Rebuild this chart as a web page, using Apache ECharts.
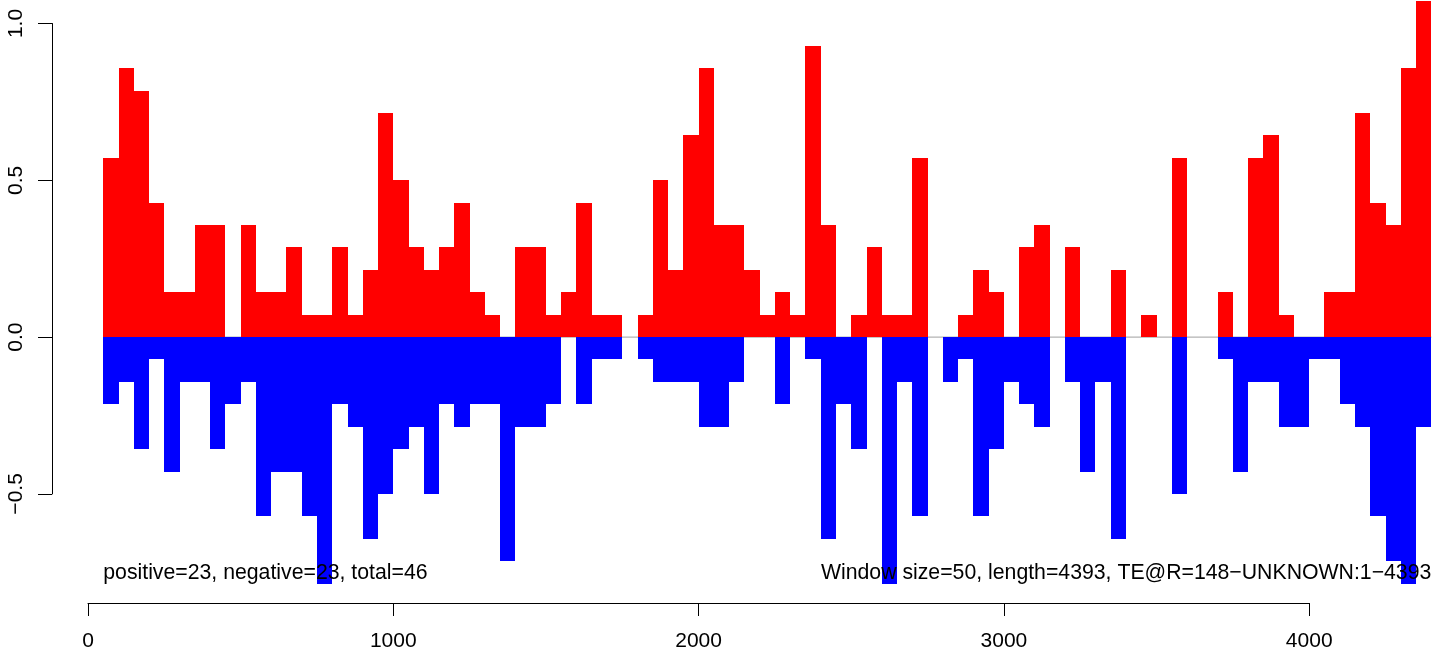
<!DOCTYPE html>
<html>
<head>
<meta charset="utf-8">
<script src="https://cdn.jsdelivr.net/npm/echarts@6/dist/echarts.min.js"></script>
<style>
html,body{margin:0;padding:0;background:#fff;}
#chart{width:1447px;height:652px;}
</style>
</head>
<body>
<div id="chart"></div>
<script>
// ---- data ----
const windowSize = 50;
const firstWindowStart = 50;
const positiveValues = [
  0.571,0.857,0.786,0.429,0.143,0.143,0.357,0.357,0,0.357,
  0.143,0.143,0.286,0.071,0.071,0.286,0.071,0.214,0.714,0.5,
  0.286,0.214,0.286,0.429,0.143,0.071,0,0.286,0.286,0.071,
  0.143,0.429,0.071,0.071,0,0.071,0.5,0.214,0.643,0.857,
  0.357,0.357,0.214,0.071,0.143,0.071,0.929,0.357,0,0.071,
  0.286,0.071,0.071,0.571,0,0,0.071,0.214,0.143,0,
  0.286,0.357,0,0.286,0,0,0.214,0,0.071,0,
  0.571,0,0,0.143,0,0.571,0.643,0.071,0,0,
  0.143,0.143,0.714,0.429,0.357,0.857,1.071
];
const negativeValues = [
  -0.214,-0.143,-0.357,-0.071,-0.429,-0.143,-0.143,-0.357,-0.214,-0.143,
  -0.571,-0.429,-0.429,-0.571,-0.786,-0.214,-0.286,-0.643,-0.5,-0.357,
  -0.286,-0.5,-0.214,-0.286,-0.214,-0.214,-0.714,-0.286,-0.286,-0.214,
  0,-0.214,-0.071,-0.071,0,-0.071,-0.143,-0.143,-0.143,-0.286,
  -0.286,-0.143,0,0,-0.214,0,-0.071,-0.643,-0.214,-0.357,
  0,-0.786,-0.143,-0.571,0,-0.143,-0.071,-0.571,-0.357,-0.143,
  -0.214,-0.286,0,-0.143,-0.429,-0.143,-0.643,0,0,0,
  -0.5,0,0,-0.071,-0.429,-0.143,-0.143,-0.286,-0.286,-0.071,
  -0.071,-0.214,-0.286,-0.571,-0.714,-0.786,-0.286
];
const xTicks = [0, 1000, 2000, 3000, 4000];
const yTicks = [-0.5, 0.0, 0.5, 1.0];
const leftNote = 'positive=23, negative=23, total=46';
const rightNote = 'Window size=50, length=4393, TE@R=148\u2212UNKNOWN:1\u22124393';

// ---- build ----
const starts = positiveValues.map((_, i) => firstWindowStart + i * windowSize);
const posData = positiveValues.map((v, i) => [starts[i], starts[i] + windowSize, v]);
const negData = negativeValues.map((v, i) => [starts[i], starts[i] + windowSize, v]);
const xEnd = starts[starts.length - 1] + windowSize;

const pxPerUnitX = 0.3053;
const pxPerUnitY = 313.6;
const plotLeft = 88;
const zeroY = 337.1;
const FONT = '"Liberation Sans", Arial, Helvetica, sans-serif';

function rectItem(color) {
  return function (params, api) {
    const v = api.value(2);
    if (!v) return null;
    const p0 = api.coord([api.value(0), 0]);
    const p1 = api.coord([api.value(1), v]);
    const x0 = Math.round(p0[0]), x1 = Math.round(p1[0]);
    const y0 = Math.round(p0[1]), y1 = Math.round(p1[1]);
    return {
      type: 'rect',
      shape: { x: x0, y: Math.min(y0, y1), width: x1 - x0, height: Math.abs(y1 - y0) },
      style: { fill: color }
    };
  };
}

const chart = echarts.init(document.getElementById('chart'), null, { renderer: 'canvas' });
const yMax = 1.075, yMin = -1.0;
const option = {
  animation: false,
  backgroundColor: '#ffffff',
  grid: [
    { left: plotLeft, top: zeroY - yMax * pxPerUnitY, width: xEnd * pxPerUnitX, height: (yMax - yMin) * pxPerUnitY },
    { left: plotLeft, width: xTicks[xTicks.length - 1] * pxPerUnitX, top: 500, bottom: 48 },
    { left: 52, width: 100, top: zeroY - 1.0 * pxPerUnitY, height: 1.5 * pxPerUnitY }
  ],
  xAxis: [
    { gridIndex: 0, type: 'value', min: 0, max: xEnd, show: false },
    { gridIndex: 1, type: 'value', min: xTicks[0], max: xTicks[xTicks.length - 1], interval: 1000,
      axisLine: { show: true, lineStyle: { color: '#000', width: 1 } },
      axisTick: { show: true, length: 13, lineStyle: { color: '#000', width: 1 } },
      axisLabel: { show: true, margin: 28, color: '#000', fontSize: 21, fontFamily: FONT,
        formatter: v => String(v) },
      splitLine: { show: false } },
    { gridIndex: 2, type: 'value', show: false }
  ],
  yAxis: [
    { gridIndex: 0, type: 'value', min: yMin, max: yMax, show: false },
    { gridIndex: 1, type: 'value', show: false },
    { gridIndex: 2, type: 'value', min: yTicks[0], max: yTicks[yTicks.length - 1], interval: 0.5,
      axisLine: { show: true, lineStyle: { color: '#000', width: 1 } },
      axisTick: { show: true, length: 14, lineStyle: { color: '#000', width: 1 } },
      axisLabel: { show: true, rotate: 90, margin: 25, color: '#000', fontSize: 21, fontFamily: FONT,
        formatter: v => v.toFixed(1).replace('-', '\u2212') },
      splitLine: { show: false } }
  ],
  series: [
    { type: 'line', xAxisIndex: 0, yAxisIndex: 0, data: [[firstWindowStart, 0], [xEnd, 0]],
      symbol: 'none', lineStyle: { color: '#a0a0a0', width: 1 }, z: 1, silent: true },
    { type: 'custom', xAxisIndex: 0, yAxisIndex: 0, data: posData, renderItem: rectItem('#ff0000'), z: 2, silent: true },
    { type: 'custom', xAxisIndex: 0, yAxisIndex: 0, data: negData, renderItem: rectItem('#0000ff'), z: 2, silent: true }
  ]
};
chart.setOption(option);

const lx = chart.convertToPixel({ xAxisIndex: 0 }, firstWindowStart);
const rx = chart.convertToPixel({ xAxisIndex: 0 }, xEnd);
chart.setOption({
  graphic: [
    { type: 'text', x: lx, y: 573, z: 100,
      style: { text: leftNote, fill: '#000', font: '21.25px ' + FONT, textAlign: 'left', textVerticalAlign: 'middle', verticalAlign: 'middle' } },
    { type: 'text', x: rx, y: 573, z: 100,
      style: { text: rightNote, fill: '#000', font: '21.25px ' + FONT, textAlign: 'right', textVerticalAlign: 'middle', verticalAlign: 'middle' } }
  ]
});
</script>
</body>
</html>
